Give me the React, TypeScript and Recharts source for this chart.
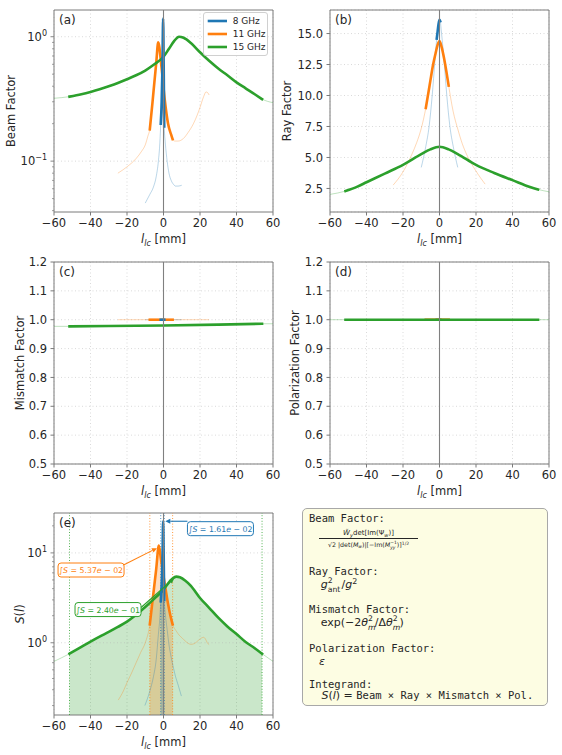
import React from "react";
import {
  ComposedChart, Line, Area, XAxis, YAxis, CartesianGrid,
  ReferenceLine, ReferenceArea, ReferenceDot, Legend,
} from "recharts";

type Pt = [number, number];

const BLUE = "#1f77b4";
const ORANGE = "#ff7f0e";
const GREEN = "#2ca02c";
const COLORS = [BLUE, ORANGE, GREEN];
const SPINE = "#7a7a7a";
const INK = "#262626";
const FONT = "'DejaVu Sans', Verdana, sans-serif";
const MONO = "'DejaVu Sans Mono', monospace";

// ---- data ----
const freqs = ["8 GHz", "11 GHz", "15 GHz"];
const thickRanges: [number, number][] = [[-1.5, 0.4], [-7.5, 5], [-51.5, 54]];
const integrals = [1.61e-2, 5.37e-2, 2.4e-1];

const xTicks = [-60, -40, -20, 0, 20, 40, 60];
const beamTicks = [0.04, 0.05, 0.06, 0.07, 0.08, 0.09, 0.1, 0.2, 0.3, 0.4, 0.5, 0.6, 0.7, 0.8, 0.9, 1];
const rayTicks = [2.5, 5, 7.5, 10, 12.5, 15];
const unitTicks = [0.5, 0.6, 0.7, 0.8, 0.9, 1.0, 1.1, 1.2];
const sTicks = [0.2, 0.3, 0.4, 0.5, 0.6, 0.7, 0.8, 0.9, 1, 2, 3, 4, 5, 6, 7, 8, 9, 10, 20];

const beam8: Pt[] = [[-10, 0.046], [-7.5, 0.054], [-5.5, 0.062], [-4, 0.075], [-2.8, 0.1], [-2, 0.14], [-1.5, 0.2], [-1, 0.3], [-0.6, 0.55], [-0.2, 1.4], [0.1, 0.6], [0.4, 0.19], [1, 0.14], [2, 0.1], [3, 0.08], [4.2, 0.07], [5.5, 0.065], [6.6, 0.063], [8, 0.063], [10, 0.064]];
const beam11: Pt[] = [[-25, 0.08], [-20, 0.09], [-15, 0.105], [-12, 0.12], [-10, 0.135], [-8.5, 0.16], [-7.5, 0.18], [-6, 0.3], [-5, 0.43], [-4, 0.61], [-2.9, 0.9], [-1.1, 0.57], [0.7, 0.31], [2.5, 0.2], [4.2, 0.163], [5, 0.15], [6.3, 0.145], [8, 0.145], [10.9, 0.152], [13.5, 0.17], [16.4, 0.2], [18.5, 0.235], [20, 0.27], [22, 0.33], [23.3, 0.36], [24.2, 0.355], [25, 0.34]];
const beam15: Pt[] = [[-60, 0.32], [-51.5, 0.33], [-45, 0.345], [-40, 0.36], [-35, 0.378], [-30, 0.4], [-25, 0.425], [-20, 0.455], [-15, 0.49], [-10, 0.535], [-5, 0.6], [0, 0.69], [3, 0.8], [6, 0.93], [8.5, 1.0], [11, 0.98], [15, 0.89], [20, 0.75], [25, 0.64], [30, 0.555], [35, 0.49], [40, 0.43], [45, 0.385], [50, 0.345], [54, 0.315], [60, 0.295]];

const ray8: Pt[] = [[-10, 4.2], [-7.5, 5.9], [-5.7, 7.5], [-4, 10], [-2.5, 12.8], [-1.5, 14.6], [-1, 15.2], [-0.5, 15.8], [0, 16.1], [0.4, 16.0], [1, 15.2], [2.5, 12.8], [4, 10], [5.7, 7.5], [7.5, 5.9], [10, 4.2]];
const ray11: Pt[] = [[-25.4, 2.77], [-20, 3.84], [-15, 5.3], [-12.5, 6.2], [-10, 7.34], [-7.5, 9.0], [-6, 10.3], [-5, 11.2], [-3.5, 12.5], [-2, 13.5], [-1, 14.1], [0, 14.4], [1, 14.0], [2.5, 13.0], [3.7, 12.0], [5, 10.8], [7.5, 8.7], [10, 7.3], [12.5, 6.1], [15, 5.2], [20, 3.9], [25, 2.85]];
const ray15: Pt[] = [[-60, 2.02], [-51.5, 2.29], [-45, 2.65], [-40, 3.0], [-30, 3.7], [-20, 4.4], [-10, 5.27], [-5, 5.65], [0, 5.86], [5, 5.65], [10, 5.27], [20, 4.4], [30, 3.75], [40, 3.17], [50, 2.6], [54, 2.42], [60, 2.23]];

const mis8: Pt[] = [[-10, 1.0], [-1.5, 1.0], [0.4, 1.0], [10, 1.0]];
const mis11: Pt[] = [[-25, 1.0], [-7.5, 1.0], [5, 1.0], [25, 1.0]];
const mis15: Pt[] = [[-60, 0.977], [-51.5, 0.977], [-30, 0.978], [0, 0.98], [30, 0.983], [54, 0.986], [60, 0.986]];

const pol8: Pt[] = [[-10, 1], [-1.5, 1], [0.4, 1], [10, 1]];
const pol11: Pt[] = [[-25, 1], [-7.5, 1], [5, 1], [25, 1]];
const pol15: Pt[] = [[-60, 1], [-51.5, 1], [54, 1], [60, 1]];

const s8: Pt[] = [[-10.2, 0.2], [-7.5, 0.29], [-5.5, 0.42], [-4, 0.65], [-2.8, 1.24], [-2, 1.9], [-1.5, 2.9], [-1, 4.5], [-0.6, 7.5], [-0.2, 22.5], [0.1, 9.5], [0.4, 3.0], [1, 2.1], [2, 1.4], [3, 0.95], [4.2, 0.69], [5.5, 0.52], [6.6, 0.42], [8, 0.34], [9.8, 0.255]];
const s11: Pt[] = [[-24.8, 0.23], [-22, 0.29], [-20, 0.36], [-17.5, 0.46], [-15, 0.6], [-12.5, 0.78], [-10, 1.0], [-7.5, 1.6], [-6, 2.95], [-5, 4.4], [-4, 6.6], [-2.55, 12.05], [-1.5, 8.8], [0, 5.5], [1.2, 3.9], [2.5, 2.7], [3.8, 2.0], [5, 1.6], [7, 1.35], [8.5, 1.22], [10, 1.14], [12.5, 1.02], [15, 0.96], [17, 0.98], [19, 1.06], [20.5, 1.12], [22, 1.15], [23, 1.1], [24, 1.0], [25, 0.95]];
const s15: Pt[] = [[-60, 0.62], [-51.5, 0.755], [-45, 0.9], [-40, 1.03], [-35, 1.17], [-30, 1.32], [-25, 1.5], [-20, 1.72], [-15, 2.05], [-10, 2.5], [-5, 3.1], [0, 3.9], [3, 4.7], [5, 5.2], [7, 5.45], [9, 5.35], [12, 4.9], [15, 4.3], [20, 3.15], [25, 2.45], [30, 1.9], [35, 1.52], [40, 1.25], [45, 1.02], [50, 0.87], [54, 0.755], [60, 0.62]];

// annotation anchors in panel (e), data coords
const noteAt: Pt[] = [[31.2, 18.6], [-39.7, 6.45], [-30.4, 2.34]];
const arrowFrom: Pt[] = [[13.1, 22.5], [-22.7, 7.2], [-12.3, 2.47]];
const arrowTo: Pt[] = [[1.0, 22.5], [-3.6, 11.3], [5.8, 5.2]];

// ---- layout ----
const W = 283, H = 257, PL = 54, PT = 10, PW = 219, PH = 202;

const rows = (pts: Pt[]) => pts.map(([x, y]) => ({ x, y }));
const within = (pts: Pt[], [lo, hi]: [number, number]) =>
  rows(pts.filter(([x]) => x >= lo - 1e-9 && x <= hi + 1e-9));
const fmtMinus = (v: number) => (v < 0 ? `\u2212${-v}` : `${v}`);
const isMajor = (v: number) => Math.abs(Math.log10(v) - Math.round(Math.log10(v))) < 1e-9;

const LogTick = (p: any) => {
  const { x, y, payload } = p;
  const v = payload.value;
  const major = isMajor(v);
  const e = Math.round(Math.log10(v));
  const ax = x + 7;
  return (
    <g>
      <line x1={ax - (major ? 3.5 : 2)} x2={ax} y1={y} y2={y} stroke={SPINE} strokeWidth={major ? 0.9 : 0.7} />
      {major ? (
        <text x={x} y={y + 4} textAnchor="end" fontSize={11.5} fill={INK} fontFamily={FONT}>
          10<tspan dy={-5} fontSize={8}>{e < 0 ? `\u2212${-e}` : `${e}`}</tspan>
        </text>
      ) : null}
    </g>
  );
};

const XLabel = () => (
  <text x={PL + PW / 2} y={PT + PH + 31} textAnchor="middle" fontSize={11.5} fill={INK} fontFamily={FONT}>
    <tspan fontStyle="italic">l</tspan>
    <tspan fontStyle="italic" fontSize={8} dy={2.5}>lc</tspan>
    <tspan dy={-2.5}>{"\u00a0[mm]"}</tspan>
  </text>
);

const yLabel = (content: React.ReactNode, dx: number) => ({
  content: () => (
    <text transform={`translate(${PL + dx},${PT + PH / 2}) rotate(-90)`} textAnchor="middle"
      dominantBaseline="central" fontSize={11.5} fill={INK} fontFamily={FONT}>
      {content}
    </text>
  ),
});

const LegendBox = () => (
  <div style={{ width: 63, height: 41, border: "1px solid #d0d0d0", borderRadius: 3, background: "rgba(255,255,255,0.85)", paddingTop: 1, fontFamily: FONT, fontSize: 9, color: INK, textAlign: "left" }}>
    {freqs.map((f, i) => (
      <div key={f} style={{ display: "flex", alignItems: "center", height: 13.3 }}>
        <svg width={25.7} height={6} style={{ marginLeft: 3 }}>
          <line x1={0.7} x2={20} y1={3} y2={3} stroke={COLORS[i]} strokeWidth={2.6} />
        </svg>
        <span>{f}</span>
      </div>
    ))}
  </div>
);

const arrowShape = (color: string) => (p: any) => {
  const { x1, y1, x2, y2 } = p;
  const dx = x2 - x1, dy = y2 - y1, len = Math.hypot(dx, dy) || 1;
  const ux = dx / len, uy = dy / len;
  const s = 5, w = 2.4;
  const bx = x2 - ux * s, by = y2 - uy * s;
  return (
    <g>
      <line x1={x1} y1={y1} x2={bx} y2={by} stroke={color} strokeWidth={1.1} />
      <polygon points={`${x2},${y2} ${bx - uy * w},${by + ux * w} ${bx + uy * w},${by - ux * w}`} fill={color} />
    </g>
  );
};

const noteShape = (i: number) => (p: any) => {
  const { cx, cy } = p;
  const [m, e] = integrals[i].toExponential(2).split("e");
  const n = parseInt(e, 10);
  const ex = String(Math.abs(n)).padStart(2, "0");
  const w = 66, h = 14, c = COLORS[i];
  return (
    <g>
      <rect x={cx - w / 2} y={cy - h / 2} width={w} height={h} rx={3} fill="#ffffff" fillOpacity={0.92} stroke={c} strokeWidth={1} />
      <text x={cx} y={cy + 3} textAnchor="middle" fontSize={7.8} fill={c} fontFamily={FONT}>
        {"\u222b"}<tspan fontStyle="italic">S</tspan>{" = " + m}<tspan fontStyle="italic">e</tspan>{(n < 0 ? " \u2212 " : " + ") + ex}
      </text>
    </g>
  );
};

type PanelProps = {
  left: number; top: number; tag: string;
  curves: Pt[][]; yDomain: [number, number]; yTicks: number[]; log?: boolean;
  yFmt?: (v: number) => string; yLab: React.ReactNode; yLabDx: number;
  order?: number[]; under?: React.ReactNode[]; over?: React.ReactNode[];
};

function Panel({ left, top, tag, curves, yDomain, yTicks, log, yFmt, yLab, yLabDx, order = [1, 2, 0], under = [], over = [] }: PanelProps) {
  const tickStyle = { fontSize: 11.5, fill: INK, fontFamily: FONT };
  const gridStyle = { stroke: "#b0b0b0", strokeOpacity: 0.6, strokeDasharray: "1 2.5", strokeWidth: 0.8 };
  return (
    <div style={{ position: "absolute", left, top }}>
      <ComposedChart width={W} height={H} margin={{ top: PT, right: 10, bottom: 0, left: 0 }}>
        <CartesianGrid horizontal={!log} {...gridStyle} />
        {log && yTicks.filter(isMajor).map((v) => <ReferenceLine key={"g" + v} y={v} {...gridStyle} />)}
        <XAxis type="number" dataKey="x" domain={[-60, 60]} ticks={xTicks} interval={0} allowDataOverflow
          height={45} tickSize={3.5} tickMargin={3.5} axisLine={false} tickLine={{ stroke: SPINE }}
          tick={tickStyle} tickFormatter={fmtMinus} label={{ content: XLabel }} />
        <YAxis type="number" scale={log ? "log" : "linear"} domain={yDomain} ticks={yTicks} interval={0}
          allowDataOverflow width={PL} tickSize={3.5} tickMargin={3.5} axisLine={false}
          tickLine={log ? false : { stroke: SPINE }} tick={log ? LogTick : tickStyle}
          tickFormatter={yFmt} label={yLabel(yLab, yLabDx)} />
        {under}
        {curves.map((pts, i) => (
          <Line key={"thin" + i} data={rows(pts)} dataKey="y" type="monotone" stroke={COLORS[i]}
            strokeOpacity={0.3} strokeWidth={1} dot={false} activeDot={false} isAnimationActive={false} />
        ))}
        {order.map((i) => (
          <Line key={"thick" + i} data={within(curves[i], thickRanges[i])} dataKey="y" type="monotone"
            stroke={COLORS[i]} strokeWidth={2.6} strokeLinecap="square" dot={false} activeDot={false}
            isAnimationActive={false} />
        ))}
        <ReferenceLine x={0} stroke="#808080" strokeWidth={1.1} />
        {over}
        <ReferenceArea x1={-60} x2={60} y1={yDomain[0]} y2={yDomain[1]} fill="none" fillOpacity={0}
          stroke={SPINE} strokeWidth={1}
          label={{ value: tag, position: "insideTopLeft", offset: 5, fontSize: 12, fill: INK, fontFamily: FONT }} />
      </ComposedChart>
    </div>
  );
}

// superscript and subscript stacked at the same x, as mathtext does
const SupSub = ({ sup, sub, w }: { sup: React.ReactNode; sub: React.ReactNode; w: number }) => (
  <span style={{ position: "relative", display: "inline-block", width: `${w}em`, height: "1em", verticalAlign: "-0.2em" }}>
    <span style={{ position: "absolute", left: 0, top: "-0.35em", fontSize: "0.7em", lineHeight: 1 }}>{sup}</span>
    <span style={{ position: "absolute", left: 0, top: "0.85em", fontSize: "0.7em", lineHeight: 1 }}>{sub}</span>
  </span>
);

const TLine = ({ c, left = 6, font = MONO, size = 10.5, children }: any) => (
  <div style={{ position: "absolute", top: c - 7, left, height: 14, lineHeight: "14px", fontFamily: font, fontSize: size, whiteSpace: "nowrap", color: INK }}>
    {children}
  </div>
);

const small = { fontSize: "0.72em", verticalAlign: "-0.3em", lineHeight: 0 } as const;
const high = { fontSize: "0.72em", verticalAlign: "0.45em", lineHeight: 0 } as const;

function FormulaBox() {
  return (
    <div style={{ position: "absolute", left: 302, top: 508, width: 246, height: 198, boxSizing: "border-box", border: "1px solid #a8a8a8", borderRadius: 5, background: "#fdfde3" }}>
      <TLine c={9.3}>Beam Factor:</TLine>
      <div style={{ position: "absolute", left: 16, width: 99, top: 17.7, height: 12, lineHeight: "12px", textAlign: "center", fontFamily: FONT, fontSize: 7, color: INK, whiteSpace: "nowrap" }}>
        <i>W{"\u0303"}</i><span style={small}><i>y</i></span>det[Im(Ψ<span style={small}><i>w</i></span>)]
      </div>
      <div style={{ position: "absolute", left: 16, width: 99, top: 29.4, height: 0, borderTop: `0.7px solid ${INK}` }} />
      <div style={{ position: "absolute", left: 16, width: 99, top: 30.2, height: 11, lineHeight: "11px", textAlign: "center", fontFamily: FONT, fontSize: 6.3, color: INK, whiteSpace: "nowrap" }}>
        √2 |det(<i>M</i><span style={small}><i>w</i></span>)|[−Im(<i>M</i><SupSub sup="−1" sub={<i>yy</i>} w={1.05} />)]<span style={high}>1/2</span>
      </div>
      <TLine c={62}>Ray Factor:</TLine>
      <TLine c={76} left={17.7} font={FONT} size={11}>
        <i>g</i><SupSub sup="2" sub="ant" w={1.25} />/<i>g</i><span style={high}>2</span>
      </TLine>
      <TLine c={100.3}>Mismatch Factor:</TLine>
      <TLine c={114.3} left={17.7} font={FONT} size={11}>
        exp(−2<i>θ</i><SupSub sup="2" sub={<i>m</i>} w={0.62} />/Δ<i>θ</i><SupSub sup="2" sub={<i>m</i>} w={0.62} />)
      </TLine>
      <TLine c={138.7}>Polarization Factor:</TLine>
      <TLine c={153} left={16} font={FONT} size={11}><i>ε</i></TLine>
      <TLine c={174.7}>Integrand:</TLine>
      <TLine c={186.3} left={18.4}>
        <span style={{ fontFamily: FONT, fontSize: 11 }}><i>S</i>(<i>l</i>) = </span> Beam × Ray × Mismatch × Pol.
      </TLine>
    </div>
  );
}

export default function App() {
  const sFills = [2, 1, 0].map((i) => (
    <Area key={"fill" + i} data={within([s8, s11, s15][i], thickRanges[i])} dataKey="y" type="monotone"
      stroke="none" fill={COLORS[i]} fillOpacity={i === 2 ? 0.25 : 0.26} baseValue={0.157}
      dot={false} activeDot={false} isAnimationActive={false} />
  ));
  const sBounds = [2, 1, 0].flatMap((i) =>
    thickRanges[i].map((x) => (
      <ReferenceLine key={`b${i}${x}`} x={x} stroke={COLORS[i]} strokeOpacity={0.8}
        strokeDasharray="1 1.8" strokeWidth={1} />
    ))
  );
  const notes = [0, 1, 2].flatMap((i) => [
    <ReferenceLine key={"a" + i} segment={[{ x: arrowFrom[i][0], y: arrowFrom[i][1] }, { x: arrowTo[i][0], y: arrowTo[i][1] }]}
      stroke={COLORS[i]} shape={arrowShape(COLORS[i])} />,
    <ReferenceDot key={"n" + i} x={noteAt[i][0]} y={noteAt[i][1]} r={0} ifOverflow="visible" shape={noteShape(i)} />,
  ]);

  return (
    <div style={{ position: "absolute", left: 0, top: 0, width: 562, height: 755, background: "#ffffff", overflow: "hidden" }}>
      <Panel left={0} top={0} tag="(a)" curves={[beam8, beam11, beam15]} yDomain={[0.039, 1.64]}
        yTicks={beamTicks} log yLab="Beam Factor" yLabDx={-43}
        over={[
          <Legend key="leg" layout="vertical" align="center" verticalAlign="middle"
            wrapperStyle={{ left: 203, top: 12, width: 65 }} content={() => <LegendBox />} />,
        ]} />
      <Panel left={276} top={0} tag="(b)" curves={[ray8, ray11, ray15]} yDomain={[0.6, 16.9]}
        yTicks={rayTicks} yFmt={(v) => v.toFixed(1)} yLab="Ray Factor" yLabDx={-43} />
      <Panel left={0} top={251.7} tag="(c)" curves={[mis8, mis11, mis15]} yDomain={[0.5, 1.2]}
        yTicks={unitTicks} yFmt={(v) => v.toFixed(1)} yLab="Mismatch Factor" yLabDx={-34} />
      <Panel left={276} top={251.7} tag="(d)" curves={[pol8, pol11, pol15]} yDomain={[0.5, 1.2]}
        yTicks={unitTicks} yFmt={(v) => v.toFixed(1)} yLab="Polarization Factor" yLabDx={-35} order={[0, 1, 2]} />
      <Panel left={0} top={503.3} tag="(e)" curves={[s8, s11, s15]} yDomain={[0.157, 27.8]}
        yTicks={sTicks} log yLabDx={-34}
        yLab={<><tspan fontStyle="italic">S</tspan>(<tspan fontStyle="italic">l</tspan>)</>}
        under={[...sFills, ...sBounds]} over={notes} />
      <FormulaBox />
    </div>
  );
}
